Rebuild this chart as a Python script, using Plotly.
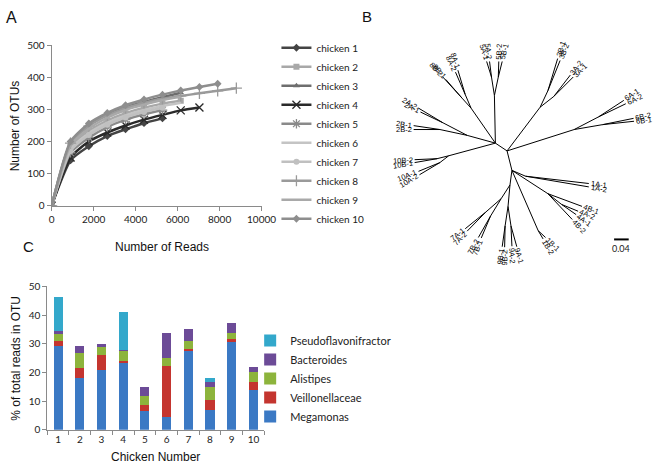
import math
import plotly.graph_objects as go

W, H = 669, 472

# ---------------- Panel A : rarefaction curves ----------------
reads = [0, 900, 1770, 2650, 3520, 4400, 5280, 6150, 7040, 7910, 8800]
otu_chicken1 = [0, 141, 185, 217, 238, 257, 272]
otu_chicken2 = [0, 180, 232, 265, 288, 305, 318, 327]
otu_chicken3 = [0, 195, 250, 283, 306, 323, 338, 352]
otu_chicken4 = [0, 150, 200, 228, 250, 268, 283, 297, 306]
otu_chicken5 = [0, 165, 212, 245, 268, 285, 298]
otu_chicken6 = [0, 175, 226, 258, 281, 298, 311, 321]
otu_chicken7 = [0, 170, 220, 252, 275, 292, 305]
otu_chicken8 = [0, 195, 248, 281, 304, 320, 333, 342, 350, 358, 366]
otu_chicken9 = [0, 188, 240, 274, 298, 315, 329, 339]
otu_chicken10 = [0, 200, 256, 289, 313, 331, 346, 359, 370, 380]
chicken_labels = ["chicken 1", "chicken 2", "chicken 3", "chicken 4", "chicken 5",
                  "chicken 6", "chicken 7", "chicken 8", "chicken 9", "chicken 10"]
curve_colors = ["#444444", "#a8a8a8", "#6e6e6e", "#2a2a2a", "#8a8a8a",
                "#c4c4c4", "#c0c0c0", "#9a9a9a", "#a9a9a9", "#8e8e8e"]
curve_symbols = ["diamond", "square", "triangle-up", "x-thin-open", "asterisk-open",
                 None, "circle", "cross-thin-open", None, "diamond"]

# ---------------- Panel C : stacked bars ----------------
chicken_numbers = ["1", "2", "3", "4", "5", "6", "7", "8", "9", "10"]
megamonas = [29.3, 18.0, 20.9, 23.2, 6.6, 4.4, 27.4, 6.9, 30.7, 13.9]
veillonellaceae = [1.7, 3.7, 5.2, 0.9, 1.9, 17.9, 0.9, 3.4, 0.9, 2.6]
alistipes = [2.3, 5.0, 2.6, 3.3, 3.3, 2.7, 2.5, 4.7, 2.0, 3.7]
bacteroides = [1.3, 2.4, 1.3, 0.5, 3.2, 8.7, 4.2, 1.5, 3.8, 1.7]
pseudoflavonifractor = [11.6, 0, 0, 13.3, 0, 0, 0, 1.5, 0, 0]
taxa_names = ["Megamonas", "Veillonellaceae", "Alistipes", "Bacteroides", "Pseudoflavonifractor"]
taxa_colors = ["#3b79c4", "#c4352f", "#8db43c", "#6c4b97", "#33a8cb"]

# ---------------- Panel B : tree layout (node id, x, y, parent) ----------------
tree_ids = ["H1", "H2", "H3",
            "T5", "N5A", "5A-1", "5A-2", "N5B", "5B-2", "5B-1",
            "N8", "N8A", "8A-1", "8A-2", "N8B", "8B-2", "8B-1",
            "N2", "N2A", "2A-2", "2A-1", "N2B", "2B-1", "2B-2",
            "N10", "N10B", "10B-2", "10B-1", "N10A", "10A-1", "10A-2",
            "N3", "N3B", "3B-1", "3B-2", "N3A", "3A-2", "3A-1",
            "N6", "N6A", "6A-1", "6A-2", "N6B", "6B-2", "6B-1",
            "N1A", "1A-1", "1A-2",
            "N4", "4B-1", "N4A", "4A-2", "4A-1", "4B-2",
            "N1B", "1B-2", "1B-1",
            "N79", "N9", "N9B", "9B-1", "9B-2", "N9A", "9A-2", "9A-1",
            "N7", "N7A", "7A-1", "7A-2", "N7B", "7B-2", "7B-1"]
tree_x = [506, 518, 523,
          505, 502, 497, 500, 509, 509.5, 513,
          481, 475, 467.5, 465, 472, 452, 455,
          477, 452, 427, 429, 449, 422, 422,
          458, 446, 423, 423, 449, 427, 428,
          552, 560, 570, 572.5, 566, 583, 586,
          587, 612, 638, 640, 616, 648, 648.5,
          537, 602, 602,
          560, 595, 574, 591, 589, 585,
          550, 555, 557.5,
          521, 519, 516, 513, 515.5, 522, 523, 528,
          512, 496, 475, 477, 501, 488.5, 491.5]
tree_y = [140, 148, 168,
          91, 72, 56, 56, 72, 56, 56,
          104, 90, 65, 67, 94, 72, 74.5,
          132, 119, 104, 108, 126, 122, 126,
          153, 156, 157, 160, 160, 169, 172.5,
          103, 86, 53, 55, 92, 70, 72,
          126, 113, 96, 99.5, 121, 114.5, 117.5,
          174, 181.5, 185,
          192, 205, 203, 210, 213.5, 218.5,
          230, 238.5, 237,
          183, 205, 225, 246.5, 247, 225, 246, 246.5,
          197, 211, 228, 230.5, 215, 237, 237.5]
tree_parent = [None, "H1", "H2",
               "H1", "T5", "N5A", "N5A", "T5", "N5B", "N5B",
               "H1", "N8", "N8A", "N8A", "N8", "N8B", "N8B",
               "H1", "N2", "N2A", "N2A", "N2", "N2B", "N2B",
               "H1", "N10", "N10B", "N10B", "N10", "N10A", "N10A",
               "H2", "N3", "N3B", "N3B", "N3", "N3A", "N3A",
               "H2", "N6", "N6A", "N6A", "N6", "N6B", "N6B",
               "H3", "N1A", "N1A",
               "H3", "N4", "N4", "N4A", "N4A", "N4",
               "H3", "N1B", "N1B",
               "H3", "N79", "N9", "N9B", "N9B", "N9", "N9A", "N9A",
               "N79", "N7", "N7A", "N7A", "N7", "N7B", "N7B"]
scale_bar_value = "0.04"
scale_bar_x = [628, 643]
scale_bar_y = [239, 239]

fig = go.Figure()

# ---- Panel A traces
otus = [otu_chicken1, otu_chicken2, otu_chicken3, otu_chicken4, otu_chicken5,
        otu_chicken6, otu_chicken7, otu_chicken8, otu_chicken9, otu_chicken10]
for i, (name, ys) in enumerate(zip(chicken_labels, otus)):
    sym = curve_symbols[i]
    col = curve_colors[i]
    marker = dict(size=6, color=col)
    if sym is not None:
        marker["symbol"] = sym
        if "open" in sym:
            marker["line"] = dict(color=col, width=1.3)
            marker["size"] = 8
    fig.add_trace(go.Scatter(
        x=reads[:len(ys)], y=ys, name=name,
        mode="lines+markers" if sym else "lines",
        line=dict(color=col, width=2.5, shape="spline", smoothing=0.6),
        marker=marker, xaxis="x", yaxis="y", legend="legend"))

# ---- Panel C traces
for name, vals, col in zip(taxa_names,
                           [megamonas, veillonellaceae, alistipes, bacteroides, pseudoflavonifractor],
                           taxa_colors):
    fig.add_trace(go.Bar(
        x=chicken_numbers, y=vals, name=name, marker=dict(color=col, line=dict(width=0)),
        xaxis="x2", yaxis="y2", legend="legend2"))

# ---- Panel B: tree
pos = {n: (x, y) for n, x, y in zip(tree_ids, tree_x, tree_y)}
ex, ey = [], []
for n, p in zip(tree_ids, tree_parent):
    if p is None:
        continue
    ex += [pos[p][0], pos[n][0], None]
    ey += [pos[p][1], pos[n][1], None]
fig.add_trace(go.Scatter(x=ex, y=ey, mode="lines", line=dict(color="black", width=1),
                         xaxis="x3", yaxis="y3", showlegend=False, hoverinfo="skip"))
fig.add_trace(go.Scatter(x=scale_bar_x, y=scale_bar_y, mode="lines",
                         line=dict(color="black", width=2),
                         xaxis="x3", yaxis="y3", showlegend=False, hoverinfo="skip"))

annotations = []
children = set(p for p in tree_parent if p)
for n, p in zip(tree_ids, tree_parent):
    if n in children or p is None:
        continue
    x, y = pos[n]
    px, py = pos[p]
    dx, dy = x - px, y - py
    L = math.hypot(dx, dy)
    ux, uy = dx / L, dy / L
    ang = math.degrees(math.atan2(dy, dx))
    if ang > 90:
        ang -= 180
    elif ang < -90:
        ang += 180
    tl = len(n) * 4.1
    off = 2 + tl / 2
    annotations.append(dict(x=x + ux * off, y=y + uy * off, xref="x3", yref="y3",
                            text=n, showarrow=False, textangle=ang,
                            xanchor="center", yanchor="middle",
                            font=dict(family="Liberation Sans", size=7.5, color="black")))
annotations.append(dict(x=sum(scale_bar_x) / 2, y=248, xref="x3", yref="y3",
                        text=scale_bar_value, showarrow=False,
                        font=dict(family="Lato", size=9, color="#222")))

# panel letters and axis titles
def pa(text, px, py, size, family="Liberation Sans", angle=0):
    annotations.append(dict(x=px / W, y=1 - py / H, xref="paper", yref="paper",
                            text=text, showarrow=False, textangle=angle,
                            xanchor="center", yanchor="middle",
                            font=dict(family=family, size=size, color="#111")))

pa("A", 9, 11, 16)
pa("B", 374, 10, 15)
pa("C", 26, 246, 15)
pa("Number of OTUs", 12, 122, 12, angle=-90)
pa("Number of Reads", 163, 247, 12)
pa("% of total reads in OTU", 13, 361, 12, angle=-90)
pa("Chicken Number", 157, 463, 12)

axis_common = dict(showgrid=False, zeroline=False, showline=True, linecolor="#8a8a8a",
                   linewidth=1, ticks="outside", tickcolor="#8a8a8a", ticklen=4,
                   tickfont=dict(family="Lato", size=10, color="#222"))

fig.update_layout(
    width=W, height=H, margin=dict(l=0, r=0, t=0, b=0),
    paper_bgcolor="white", plot_bgcolor="rgba(0,0,0,0)",
    barmode="stack", bargap=0.58,
    xaxis=dict(domain=[50 / W, 265.7 / W], range=[0, 10000], dtick=2000, tickformat="d",
               anchor="y", **axis_common),
    yaxis=dict(domain=[1 - 204.3 / H, 1 - 39.3 / H], range=[0, 500], dtick=100,
               anchor="x", **axis_common),
    xaxis2=dict(domain=[45.5 / W, 268.5 / W], range=[-0.5, 9.5], type="category",
                tickson="boundaries", anchor="y2", **axis_common),
    yaxis2=dict(domain=[1 - 434.7 / H, 1 - 287.3 / H], range=[0, 50], dtick=10,
                anchor="x2", **axis_common),
    xaxis3=dict(domain=[0, 1], range=[0, W], visible=False, anchor="y3", fixedrange=True),
    yaxis3=dict(domain=[0, 1], range=[H, 0], visible=False, anchor="x3", fixedrange=True),
    legend=dict(x=281 / W, y=1 - 27 / H, xanchor="left", yanchor="top",
                font=dict(family="Lato", size=10, color="#222"),
                bgcolor="rgba(0,0,0,0)", itemwidth=30),
    legend2=dict(x=254 / W, y=1 - 328 / H, xanchor="left", yanchor="top",
                 font=dict(family="Lato", size=11, color="#222"),
                 bgcolor="rgba(0,0,0,0)", traceorder="reversed"),
    annotations=annotations,
    showlegend=True,
)

fig.write_html("out.html", config={"displayModeBar": False},
               post_script="document.body.style.margin='0';document.body.style.overflow='hidden';")
